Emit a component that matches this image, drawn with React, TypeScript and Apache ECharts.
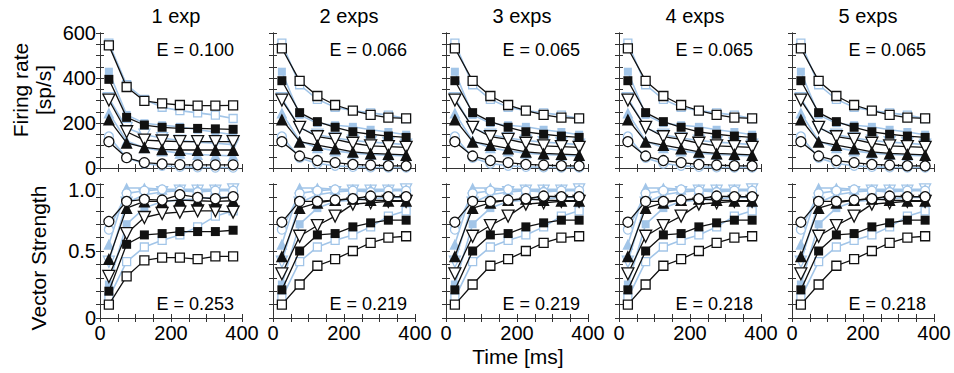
import React, { useEffect, useRef } from "react";
import * as echarts from "echarts";

const TIMES = [25, 75, 125, 175, 225, 275, 325, 375];
const PANEL_TITLES = ["1 exp", "2 exps", "3 exps", "4 exps", "5 exps"];
const E_RATE = ["0.100", "0.066", "0.065", "0.065", "0.065"];
const E_VS = ["0.253", "0.219", "0.219", "0.218", "0.218"];
const X_TICK_LABELS = [0, 200, 400];
const RATE_TICK_LABELS = [0, 200, 400, 600];
const VS_TICK_LABELS = ["0", "0.5", "1.0"];

// measured firing rate [sp/s] (light blue)
const dataRateOpenSq = [555, 370, 305, 270, 255, 245, 235, 220];
const dataRateFillSq = [428, 236, 199, 190, 183, 170, 160, 148];
const dataRateDownTri = [310, 178, 148, 133, 122, 115, 110, 104];
const dataRateUpTri = [245, 120, 90, 76, 66, 60, 57, 54];
const dataRateCircle = [140, 45, 20, 10, 5, 3, 2, 2];

// model, 1 exp
const m1RateOpenSq = [545, 360, 298, 287, 280, 277, 277, 278];
const m1RateFillSq = [394, 225, 191, 181, 176, 176, 174, 172];
const m1RateDownTri = [302, 161, 124, 120, 117, 117, 117, 117];
const m1RateUpTri = [216, 112, 92, 83, 80, 80, 80, 80];
const m1RateCircle = [117, 46, 24, 18, 15, 14, 14, 14];

// model, 2-5 exps
const m2RateOpenSq = [532, 387, 320, 280, 255, 236, 224, 221];
const m2RateFillSq = [388, 246, 206, 181, 161, 150, 142, 136];
const m2RateDownTri = [302, 181, 139, 127, 110, 98, 95, 92];
const m2RateUpTri = [216, 117, 102, 87, 72, 65, 62, 58];
const m2RateCircle = [117, 53, 33, 24, 16, 13, 10, 9];

// measured vector strength (light blue)
const dataVsOpenSq = [0.15, 0.42, 0.53, 0.58, 0.62, 0.68, 0.76, 0.8];
const dataVsFillSq = [0.25, 0.7, 0.82, 0.87, 0.88, 0.89, 0.9, 0.9];
const dataVsDownTri = [0.42, 0.86, 0.92, 0.94, 0.95, 0.95, 0.95, 0.96];
const dataVsUpTri = [0.55, 0.97, 0.97, 0.96, 0.96, 0.96, 0.96, 0.96];
const dataVsCircle = [0.66, 0.93, 0.95, 0.96, 0.95, 0.94, 0.95, 0.95];

// model vector strength, 1 exp
const m1VsOpenSq = [0.1, 0.31, 0.43, 0.45, 0.45, 0.44, 0.46, 0.46];
const m1VsFillSq = [0.2, 0.55, 0.62, 0.63, 0.645, 0.645, 0.645, 0.655];
const m1VsDownTri = [0.31, 0.63, 0.75, 0.78, 0.79, 0.8, 0.8, 0.79];
const m1VsUpTri = [0.44, 0.82, 0.87, 0.87, 0.88, 0.875, 0.87, 0.875];
const m1VsCircle = [0.72, 0.87, 0.885, 0.88, 0.92, 0.9, 0.89, 0.905];

// model vector strength, 2-5 exps
const m2VsOpenSq = [0.1, 0.25, 0.39, 0.44, 0.5, 0.56, 0.6, 0.61];
const m2VsFillSq = [0.21, 0.5, 0.62, 0.63, 0.68, 0.71, 0.73, 0.73];
const m2VsDownTri = [0.33, 0.61, 0.69, 0.76, 0.85, 0.86, 0.87, 0.87];
const m2VsUpTri = [0.46, 0.82, 0.86, 0.88, 0.89, 0.88, 0.875, 0.875];
const m2VsCircle = [0.715, 0.87, 0.87, 0.88, 0.89, 0.91, 0.905, 0.905];

const dataRate = [dataRateOpenSq, dataRateFillSq, dataRateDownTri, dataRateUpTri, dataRateCircle];
const dataVs = [dataVsOpenSq, dataVsFillSq, dataVsDownTri, dataVsUpTri, dataVsCircle];
const model1Rate = [m1RateOpenSq, m1RateFillSq, m1RateDownTri, m1RateUpTri, m1RateCircle];
const model2Rate = [m2RateOpenSq, m2RateFillSq, m2RateDownTri, m2RateUpTri, m2RateCircle];
const model1Vs = [m1VsOpenSq, m1VsFillSq, m1VsDownTri, m1VsUpTri, m1VsCircle];
const model2Vs = [m2VsOpenSq, m2VsFillSq, m2VsDownTri, m2VsUpTri, m2VsCircle];

const FONT = "Liberation Sans, Arial, sans-serif";
const BLUE = "#a2c5e8";
const BLACK = "#111111";
const FRAME = "#333333";

const LEFTS = [100, 273, 446, 619, 792];
const PW = 142;
const ROWS = [
  { top: 33, height: 135, max: 600, interval: 50 },
  { top: 184, height: 134, max: 1, interval: 0.1 },
];

const SHAPES = [
  { symbol: "rect", filled: false, rotate: 0, size: 9 },
  { symbol: "rect", filled: true, rotate: 0, size: 9 },
  { symbol: "triangle", filled: false, rotate: 180, size: 12 },
  { symbol: "triangle", filled: true, rotate: 0, size: 12 },
  { symbol: "circle", filled: false, rotate: 0, size: 10 },
];

function buildOption() {
  const grids: any[] = [];
  const xAxes: any[] = [];
  const yAxes: any[] = [];
  const series: any[] = [];
  const graphics: any[] = [];

  ROWS.forEach((row, r) => {
    LEFTS.forEach((left, p) => {
      const g = grids.length;
      grids.push({ left, top: row.top, width: PW, height: row.height });
      const tick = { show: true, inside: true, length: 4, lineStyle: { color: FRAME, width: 1 } };
      const line = { show: true, lineStyle: { color: FRAME, width: 1 } };
      xAxes.push({
        type: "value", gridIndex: g, position: "bottom", min: 0, max: 400, interval: 50,
        axisLine: line, axisTick: tick, splitLine: { show: false },
        axisLabel: {
          show: r === 1, margin: 5, fontSize: 20, color: "#000", fontFamily: FONT,
          formatter: (v: number) => (X_TICK_LABELS.includes(Math.round(v)) ? String(Math.round(v)) : ""),
        },
      });
      xAxes.push({
        type: "value", gridIndex: g, position: "top", min: 0, max: 400, interval: 50,
        axisLine: line, axisTick: tick, splitLine: { show: false }, axisLabel: { show: false },
      });
      yAxes.push({
        type: "value", gridIndex: g, position: "left", min: 0, max: row.max, interval: row.interval,
        axisLine: line, axisTick: tick, splitLine: { show: false },
        axisLabel: {
          show: p === 0, margin: 4, fontSize: 20, color: "#000", fontFamily: FONT,
          rich: { hi: { fontSize: 20, fontFamily: FONT, color: "#000", padding: [12, 0, 0, 0] } },
          formatter: (v: number) => {
            if (r === 0) {
              const k = Math.round(v);
              return RATE_TICK_LABELS.includes(k) ? String(k) : "";
            }
            if (Math.abs(v) < 1e-6) return VS_TICK_LABELS[0];
            if (Math.abs(v - 0.5) < 1e-6) return VS_TICK_LABELS[1];
            if (Math.abs(v - 1) < 1e-6) return "{hi|" + VS_TICK_LABELS[2] + "}";
            return "";
          },
        },
      });
      yAxes.push({
        type: "value", gridIndex: g, position: "right", min: 0, max: row.max, interval: row.interval,
        axisLine: line, axisTick: tick, splitLine: { show: false }, axisLabel: { show: false },
      });

      const dataSets = r === 0 ? dataRate : dataVs;
      const modelSets = r === 0 ? (p === 0 ? model1Rate : model2Rate) : p === 0 ? model1Vs : model2Vs;

      const addSeries = (vals: number[], k: number, isModel: boolean) => {
        const s = SHAPES[k];
        const col = isModel ? BLACK : BLUE;
        series.push({
          type: "line",
          xAxisIndex: 2 * g,
          yAxisIndex: 2 * g,
          data: TIMES.map((t, i) => [t, vals[i]]),
          symbol: s.symbol,
          symbolSize: isModel ? s.size : s.size - 1,
          symbolRotate: s.rotate,
          showSymbol: true,
          z: isModel ? 4 : 2,
          lineStyle: { color: col, width: isModel ? 1.3 : 1.6 },
          itemStyle: {
            color: s.filled ? col : "#ffffff",
            borderColor: col,
            borderWidth: s.filled ? 0 : 1.3,
            opacity: 1,
          },
          emphasis: { disabled: true },
          silent: true,
        });
      };
      dataSets.forEach((vals, k) => addSeries(vals, k, false));
      modelSets.forEach((vals, k) => addSeries(vals, k, true));

      const eText = r === 0 ? E_RATE[p] : E_VS[p];
      graphics.push({
        type: "text",
        x: left + PW - 8,
        y: r === 0 ? row.top + 17 : row.top + row.height - 14,
        style: {
          text: "E = " + eText, fill: "#000", fontSize: 18, fontFamily: FONT,
          align: "right", verticalAlign: "middle",
        },
        z: 10,
      });
      if (r === 0) {
        graphics.push({
          type: "text",
          x: left + PW / 2 + 5,
          y: 16,
          style: {
            text: PANEL_TITLES[p], fill: "#000", fontSize: 20, fontFamily: FONT,
            align: "center", verticalAlign: "middle",
          },
        });
      }
    });
  });

  graphics.push({
    type: "text", x: 32, y: 90, rotation: Math.PI / 2,
    style: { text: "Firing rate\n[sp/s]", fill: "#000", fontSize: 21, fontFamily: FONT, align: "center", verticalAlign: "middle", lineHeight: 23 },
  });
  graphics.push({
    type: "text", x: 38, y: 258, rotation: Math.PI / 2,
    style: { text: "Vector Strength", fill: "#000", fontSize: 21, fontFamily: FONT, align: "center", verticalAlign: "middle" },
  });
  graphics.push({
    type: "text", x: 518, y: 356,
    style: { text: "Time [ms]", fill: "#000", fontSize: 21, fontFamily: FONT, align: "center", verticalAlign: "middle" },
  });

  return {
    animation: false,
    backgroundColor: "#ffffff",
    grid: grids,
    xAxis: xAxes,
    yAxis: yAxes,
    series,
    graphic: graphics,
  };
}

export default function App() {
  const ref = useRef<HTMLDivElement>(null);
  useEffect(() => {
    document.body.style.margin = "0";
    if (!ref.current) return;
    const chart = echarts.init(ref.current, undefined, { renderer: "svg" });
    chart.setOption(buildOption() as any);
    return () => chart.dispose();
  }, []);
  return (
    <div
      ref={ref}
      style={{ position: "absolute", left: 0, top: 0, width: 954, height: 373 }}
    />
  );
}
